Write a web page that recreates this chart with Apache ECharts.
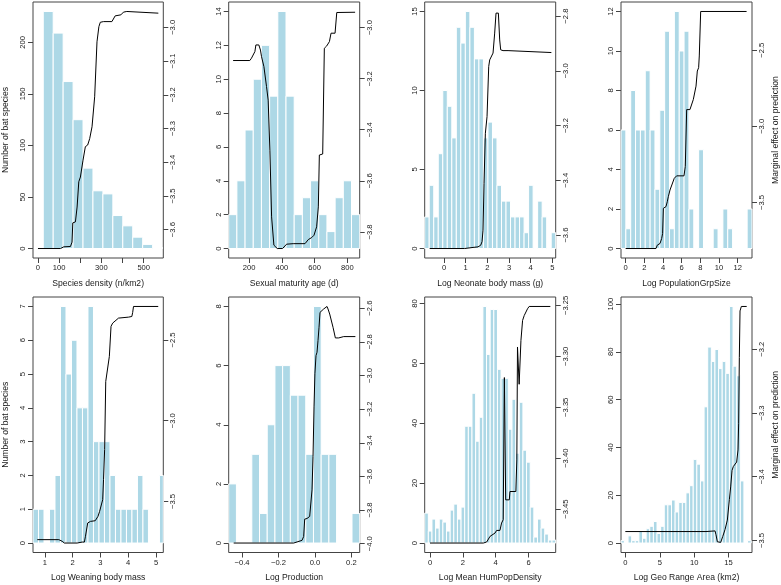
<!DOCTYPE html>
<html>
<head>
<meta charset="utf-8">
<script src="https://cdn.jsdelivr.net/npm/echarts@6/dist/echarts.min.js"></script>
<style>html,body{margin:0;padding:0;background:#fff}#c{width:781px;height:585px}</style>
</head>
<body>
<div id="c"></div>
<script>
// ---------- DATA ----------
const countName = 'Number of bat species';
const effectName = 'Marginal effect on prediction';

// Panel 1
const p1XName = 'Species density (n/km2)';
const p1XRange = [-23.5, 592.5];
const p1XTicks = [0, 100, 200, 300, 400, 500];
const p1XLabels = [0, 100, 300, 500];
const p1CountTicks = [0, 50, 100, 150, 200];
const p1EffectTicks = [-3.6, -3.5, -3.4, -3.3, -3.2, -3.1, -3.0];
const p1BinStart = 25, p1BinWidth = 47;
const p1Counts = [230, 209, 162, 125, 78, 56, 53, 32, 22, 11, 4, 1];
const p1LineX = [0, 106.6, 122, 153.6, 161, 164.6, 177, 185, 193, 200.6, 213, 224, 235, 244.5, 255.5, 268, 279, 288, 294.7, 310, 349.5, 365, 392, 404, 420, 428, 569];
const p1LineY = [-3.656, -3.656, -3.651, -3.650, -3.637, -3.580, -3.577, -3.533, -3.458, -3.444, -3.394, -3.354, -3.349, -3.330, -3.295, -3.206, -3.043, -2.998, -2.985, -2.983, -2.983, -2.966, -2.963, -2.955, -2.953, -2.958, -2.958];

// Panel 2
const p2XName = 'Sexual maturity age (d)';
const p2XRange = [75, 875];
const p2XTicks = [200, 400, 600, 800];
const p2XLabels = [200, 400, 600, 800];
const p2CountTicks = [0, 2, 4, 6, 8, 10, 12, 14];
const p2EffectTicks = [-3.8, -3.6, -3.4, -3.2, -3.0];
const p2BinStart = 75, p2BinWidth = 50;
const p2Counts = [2, 4, 7, 10, 12, 9, 14, 9, 2, 3, 4, 2, 1, 3, 4, 2];
const p2LineX = [102, 204, 214, 235, 241, 251, 259, 269, 275.5, 290, 306, 316, 326.5, 337, 351, 371.4, 404, 428.6, 469, 541, 561, 582, 596, 612, 622.4, 628.6, 649, 659, 673.5, 690, 700, 724.5, 735, 745, 847];
const p2LineY = [-3.129, -3.129, -3.120, -3.094, -3.068, -3.074, -3.068, -3.088, -3.114, -3.153, -3.231, -3.284, -3.480, -3.741, -3.852, -3.865, -3.865, -3.848, -3.846, -3.846, -3.830, -3.822, -3.813, -3.780, -3.702, -3.499, -3.495, -3.081, -3.072, -3.055, -3.022, -3.022, -2.941, -2.937, -2.940];

// Panel 3
const p3XName = 'Log Neonate body mass (g)';
const p3XRange = [-0.892, 5.154];
const p3XTicks = [0, 1, 2, 3, 4, 5];
const p3XLabels = [0, 1, 2, 3, 4, 5];
const p3CountTicks = [0, 5, 10, 15];
const p3EffectTicks = [-3.6, -3.4, -3.2, -3.0, -2.8];
const p3BinStart = -0.892, p3BinWidth = 0.2085;
const p3Counts = [2, 4, 2, 6, 10, 9, 7, 14, 13, 15, 14, 12, 12, 7, 8, 7, 4, 3, 3, 2, 2, 2, 1, 4, 0, 3, 2, 0, 1];
const p3LineX = [-0.662, 0.954, 1.338, 1.569, 1.692, 1.754, 1.8, 1.846, 1.908, 1.985, 2.062, 2.108, 2.185, 2.262, 2.338, 2.4, 2.462, 2.508, 2.569, 2.615, 2.723, 2.954, 3.031, 4.954];
const p3LineY = [-3.649, -3.649, -3.645, -3.643, -3.637, -3.624, -3.582, -3.411, -3.228, -3.167, -2.984, -2.960, -2.954, -2.935, -2.862, -2.789, -2.783, -2.789, -2.887, -2.923, -2.926, -2.926, -2.933, -2.933];

// Panel 4
const p4XName = 'Log PopulationGrpSize';
const p4XRange = [-0.5, 13.54];
const p4XTicks = [0, 2, 4, 6, 8, 10, 12];
const p4XLabels = [0, 2, 4, 6, 8, 10, 12];
const p4CountTicks = [0, 2, 4, 6, 8, 10, 12];
const p4EffectTicks = [-3.5, -3.0, -2.5];
const p4BinStart = -0.5, p4BinWidth = 0.52;
const p4Counts = [6, 1, 8, 6, 6, 9, 6, 3, 7, 11, 1, 12, 10, 11, 2, 0, 5, 0, 0, 1, 0, 2, 1, 0, 0, 0, 2];
const p4LineX = [0, 3.25, 3.39, 3.68, 3.86, 3.96, 4.04, 4.32, 4.46, 4.57, 4.75, 4.96, 5.21, 5.46, 6.25, 6.39, 6.54, 6.89, 7.25, 7.54, 7.68, 7.82, 7.89, 8.04, 12.96];
const p4LineY = [-3.802, -3.802, -3.780, -3.769, -3.736, -3.703, -3.538, -3.527, -3.495, -3.462, -3.418, -3.413, -3.341, -3.325, -3.325, -3.264, -2.890, -2.890, -2.824, -2.736, -2.637, -2.615, -2.538, -2.246, -2.246];

// Panel 5
const p5XName = 'Log Weaning body mass';
const p5XRange = [0.57, 5.263];
const p5XTicks = [1, 2, 3, 4, 5];
const p5XLabels = [1, 2, 3, 4, 5];
const p5CountTicks = [0, 1, 2, 3, 4, 5, 6, 7];
const p5EffectTicks = [-3.5, -3.0, -2.5];
const p5BinStart = 0.57, p5BinWidth = 0.198;
const p5Counts = [1, 1, 0, 1, 2, 7, 5, 6, 4, 4, 7, 3, 3, 3, 2, 1, 1, 1, 1, 2, 1, 0, 0, 2];
const p5LineX = [0.725, 1.50, 1.62, 1.70, 2.16, 2.34, 2.42, 2.46, 2.54, 2.64, 2.81, 2.91, 2.97, 3.03, 3.08, 3.11, 3.15, 3.19, 3.26, 3.32, 3.38, 3.44, 3.51, 3.65, 3.71, 4.01, 4.13, 4.16, 4.19, 5.08];
const p5LineY = [-3.736, -3.736, -3.746, -3.757, -3.757, -3.751, -3.751, -3.715, -3.633, -3.623, -3.619, -3.592, -3.561, -3.557, -3.489, -3.365, -3.179, -2.757, -2.751, -2.602, -2.416, -2.396, -2.386, -2.365, -2.359, -2.359, -2.355, -2.330, -2.293, -2.293];

// Panel 6
const p6XName = 'Log Production';
const p6XRange = [-0.473, 0.2457];
const p6XTicks = [-0.4, -0.2, 0.0, 0.2];
const p6XLabels = [-0.4, -0.2, 0.0, 0.2];
const p6CountTicks = [0, 2, 4, 6, 8];
const p6EffectTicks = [-4.0, -3.8, -3.6, -3.4, -3.2, -3.0, -2.8, -2.6];
const p6BinStart = -0.473, p6BinWidth = 0.04228;
const p6Counts = [2, 0, 0, 3, 1, 4, 6, 6, 5, 5, 3, 8, 3, 3, 0, 0, 1];
const p6LineX = [-0.4457, -0.1165, -0.107, -0.0707, -0.0616, -0.0561, -0.0433, -0.0287, -0.0214, -0.0159, -0.0104, -0.0049, 0.0, 0.006, 0.0116, 0.017, 0.0225, 0.028, 0.0335, 0.048, 0.0573, 0.0664, 0.0719, 0.0811, 0.0884, 0.0994, 0.1122, 0.1305, 0.158, 0.222];
const p6LineY = [-3.996, -3.996, -3.986, -3.980, -3.957, -3.854, -3.850, -3.838, -3.828, -3.680, -3.483, -3.187, -2.990, -2.882, -2.862, -2.793, -2.714, -2.625, -2.615, -2.605, -2.596, -2.590, -2.605, -2.635, -2.639, -2.714, -2.777, -2.777, -2.769, -2.769];

// Panel 7
const p7XName = 'Log Mean HumPopDensity';
const p7XRange = [-0.323, 7.657];
const p7XTicks = [0, 2, 4, 6];
const p7XLabels = [0, 2, 4, 6];
const p7CountTicks = [0, 20, 40, 60, 80];
const p7EffectTicks = [-3.45, -3.40, -3.35, -3.30, -3.25];
const p7BinStart = -0.323, p7BinWidth = 0.2216;
const p7Counts = [10, 4, 8, 5, 8, 7, 4, 11, 13, 8, 12, 39, 39, 50, 34, 42, 79, 63, 78, 78, 58, 55, 55, 38, 48, 30, 47, 31, 27, 12, 2, 8, 5, 3, 1, 1];
const p7LineX = [0, 3.25, 3.45, 3.56, 3.66, 3.76, 3.96, 4.06, 4.26, 4.36, 4.46, 4.53, 4.61, 4.83, 4.87, 5.23, 5.29, 5.33, 5.43, 5.54, 5.64, 5.74, 5.84, 5.94, 6.04, 7.33];
const p7LineY = [-3.4833, -3.4833, -3.4823, -3.4816, -3.4767, -3.4758, -3.4735, -3.4709, -3.4709, -3.4637, -3.4604, -3.3208, -3.4409, -3.4409, -3.4327, -3.4327, -3.4017, -3.2908, -3.3274, -3.2843, -3.2647, -3.2599, -3.2582, -3.2533, -3.2510, -3.2510];

// Panel 8
const p8XName = 'Log Geo Range Area (km2)';
const p8XRange = [-0.63, 18.40];
const p8XTicks = [0, 5, 10, 15];
const p8XLabels = [0, 5, 10, 15];
const p8CountTicks = [0, 20, 40, 60, 80, 100];
const p8EffectTicks = [-3.5, -3.4, -3.3, -3.2];
const p8BinStart = -0.658, p8BinWidth = 0.526;
const p8Counts = [1, 0, 3, 1, 1, 5, 2, 6, 7, 9, 4, 7, 16, 16, 18, 13, 17, 17, 21, 24, 35, 33, 26, 57, 82, 76, 81, 73, 76, 71, 99, 74, 70, 26, 0, 1];
const p8LineX = [0, 11.72, 13.03, 13.17, 13.37, 13.56, 13.85, 14.14, 14.48, 14.82, 15.11, 15.30, 15.50, 15.69, 15.93, 16.17, 16.37, 16.46, 16.56, 16.66, 16.85, 17.63];
const p8LineY = [-3.486, -3.486, -3.485, -3.491, -3.502, -3.504, -3.503, -3.494, -3.483, -3.468, -3.436, -3.416, -3.390, -3.384, -3.382, -3.377, -3.358, -3.317, -3.213, -3.140, -3.133, -3.133];

// ---------- BUILD ----------
const panels = [
  {xName:p1XName,xRange:p1XRange,xTicks:p1XTicks,xLabels:p1XLabels,cTicks:p1CountTicks,eTicks:p1EffectTicks,bs:p1BinStart,bw:p1BinWidth,counts:p1Counts,lx:p1LineX,ly:p1LineY,xDec:0,eDec:1},
  {xName:p2XName,xRange:p2XRange,xTicks:p2XTicks,xLabels:p2XLabels,cTicks:p2CountTicks,eTicks:p2EffectTicks,bs:p2BinStart,bw:p2BinWidth,counts:p2Counts,lx:p2LineX,ly:p2LineY,xDec:0,eDec:1},
  {xName:p3XName,xRange:p3XRange,xTicks:p3XTicks,xLabels:p3XLabels,cTicks:p3CountTicks,eTicks:p3EffectTicks,bs:p3BinStart,bw:p3BinWidth,counts:p3Counts,lx:p3LineX,ly:p3LineY,xDec:0,eDec:1},
  {xName:p4XName,xRange:p4XRange,xTicks:p4XTicks,xLabels:p4XLabels,cTicks:p4CountTicks,eTicks:p4EffectTicks,bs:p4BinStart,bw:p4BinWidth,counts:p4Counts,lx:p4LineX,ly:p4LineY,xDec:0,eDec:1},
  {xName:p5XName,xRange:p5XRange,xTicks:p5XTicks,xLabels:p5XLabels,cTicks:p5CountTicks,eTicks:p5EffectTicks,bs:p5BinStart,bw:p5BinWidth,counts:p5Counts,lx:p5LineX,ly:p5LineY,xDec:0,eDec:1},
  {xName:p6XName,xRange:p6XRange,xTicks:p6XTicks,xLabels:p6XLabels,cTicks:p6CountTicks,eTicks:p6EffectTicks,bs:p6BinStart,bw:p6BinWidth,counts:p6Counts,lx:p6LineX,ly:p6LineY,xDec:1,eDec:1},
  {xName:p7XName,xRange:p7XRange,xTicks:p7XTicks,xLabels:p7XLabels,cTicks:p7CountTicks,eTicks:p7EffectTicks,bs:p7BinStart,bw:p7BinWidth,counts:p7Counts,lx:p7LineX,ly:p7LineY,xDec:0,eDec:2},
  {xName:p8XName,xRange:p8XRange,xTicks:p8XTicks,xLabels:p8XLabels,cTicks:p8CountTicks,eTicks:p8EffectTicks,bs:p8BinStart,bw:p8BinWidth,counts:p8Counts,lx:p8LineX,ly:p8LineY,xDec:0,eDec:1}
];

const FONT = 'Liberation Sans, Arial, Helvetica, sans-serif';
const TXT = '#1a1a1a';
const FRAME = '#444';
const colLeft = [32.3, 228.7, 424.7, 621];
const rowTop = [2, 297];
const plotH = [256, 255.5];
const plotW = 131;

function fmt(v, d) { return Number(v).toFixed(d).replace('-', '\u2212'); }

const grids = [], xAxes = [], yAxes = [], series = [];
panels.forEach(function (p, i) {
  const r = Math.floor(i / 4), c = i % 4;
  grids.push({left: colLeft[c], top: rowTop[r], width: plotW, height: plotH[r], show: true, borderColor: FRAME, borderWidth: 1, backgroundColor: 'transparent'});
  const maxC = Math.max.apply(null, p.counts);
  const lmin = Math.min.apply(null, p.ly), lmax = Math.max.apply(null, p.ly), lr = lmax - lmin;
  const tick = {show: true, inside: false, length: 5, lineStyle: {color: FRAME, width: 1}};
  const lab = {fontSize: 7.6, color: TXT, fontFamily: FONT};
  const nameStyle = {fontSize: 8.6, color: TXT, fontFamily: FONT};
  const noLine = {show: false, onZero: false};
  xAxes.push({
    type: 'value', gridIndex: i, min: p.xRange[0], max: p.xRange[1], position: 'bottom',
    name: p.xName, nameLocation: 'middle', nameGap: 21, nameTextStyle: nameStyle,
    axisLine: noLine, splitLine: {show: false},
    axisTick: Object.assign({customValues: p.xTicks}, tick),
    axisLabel: Object.assign({customValues: p.xLabels, margin: 6, formatter: function (v) { return fmt(v, p.xDec); }}, lab)
  });
  yAxes.push({
    type: 'value', gridIndex: i, position: 'left', min: -0.04 * maxC, max: 1.04 * maxC,
    name: (c === 0 ? countName : ''), nameLocation: 'middle', nameGap: 23, nameRotate: 90, nameTextStyle: nameStyle,
    axisLine: noLine, splitLine: {show: false},
    axisTick: Object.assign({customValues: p.cTicks}, tick),
    axisLabel: Object.assign({customValues: p.cTicks, margin: 6, rotate: 90, formatter: function (v) { return fmt(v, 0); }}, lab)
  });
  yAxes.push({
    type: 'value', gridIndex: i, position: 'right', min: lmin - 0.04 * lr, max: lmax + 0.04 * lr,
    name: (c === 3 ? effectName : ''), nameLocation: 'middle', nameGap: 19, nameRotate: 90, nameTextStyle: nameStyle,
    axisLine: noLine, splitLine: {show: false},
    axisTick: Object.assign({customValues: p.eTicks}, tick),
    axisLabel: Object.assign({customValues: p.eTicks, margin: 6, rotate: 90, formatter: function (v) { return fmt(v, p.eDec); }}, lab)
  });
  series.push({
    type: 'custom', xAxisIndex: i, yAxisIndex: 2 * i, silent: true,
    data: p.counts.map(function (cnt, k) { return [p.bs + k * p.bw, p.bs + (k + 1) * p.bw, cnt]; }),
    renderItem: function (params, api) {
      const h = api.value(2);
      if (!h) return null;
      const a = api.coord([api.value(0), 0]);
      const b = api.coord([api.value(1), h]);
      const cs = params.coordSys;
      const shape = echarts.graphic.clipRectByRect(
        {x: a[0], y: b[1], width: b[0] - a[0], height: a[1] - b[1]},
        {x: cs.x, y: cs.y, width: cs.width, height: cs.height});
      if (!shape) return null;
      return {type: 'rect', shape: shape, style: {fill: '#ADD8E6', stroke: '#ffffff', lineWidth: 1}};
    }
  });
  series.push({
    type: 'line', xAxisIndex: i, yAxisIndex: 2 * i + 1, silent: true,
    data: p.lx.map(function (x, k) { return [x, p.ly[k]]; }),
    symbol: 'none', showSymbol: false, smooth: false,
    lineStyle: {color: '#000', width: 1}
  });
});

const chart = echarts.init(document.getElementById('c'), null, {renderer: 'canvas'});
chart.setOption({
  backgroundColor: '#fff',
  animation: false,
  grid: grids, xAxis: xAxes, yAxis: yAxes, series: series
});
</script>
</body>
</html>
